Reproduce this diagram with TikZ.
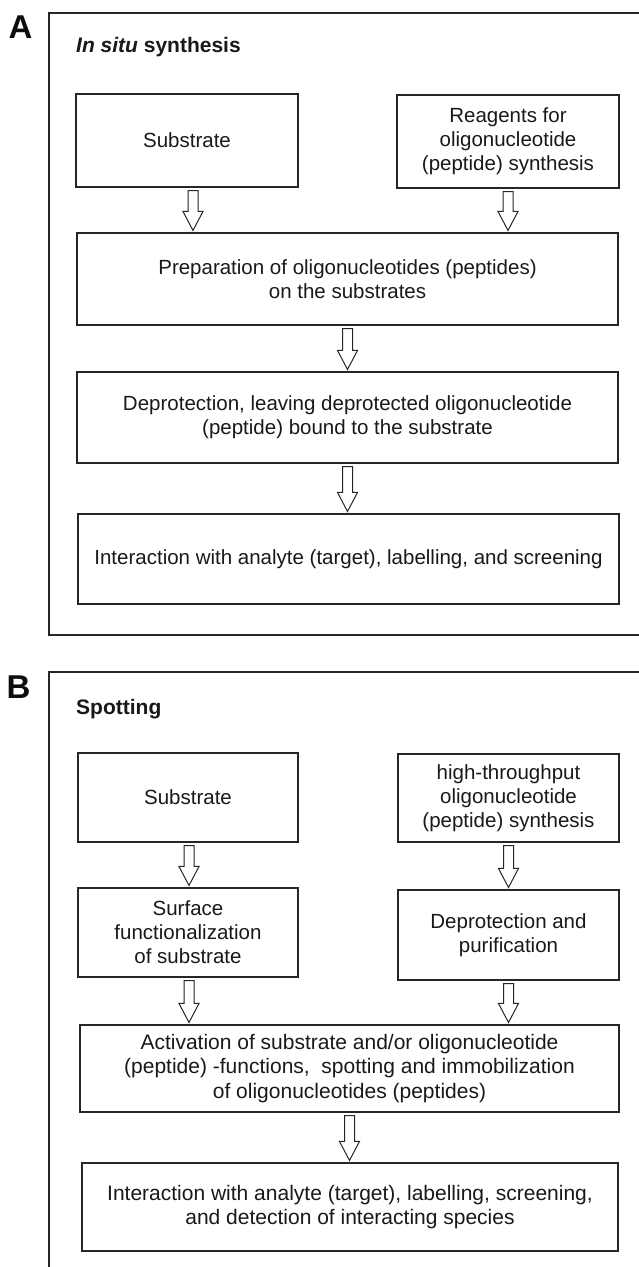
\documentclass[tikz,border=0pt]{standalone}
\usepackage{fontspec}
\setmainfont{Liberation Sans}
\usetikzlibrary{calc}
\tikzset{
  box/.style={draw=black!85, line width=1.1pt, align=center, text=black!90,
    font=\fontsize{20.5}{24}\selectfont, inner sep=0pt},
  big/.style={font=\fontsize{21}{24.5}\selectfont},
  frame/.style={draw=black!85, line width=1.1pt},
  arr/.style={draw=black!85, line width=1pt, fill=white, line join=miter},
  panel/.style={font=\bfseries\fontsize{33}{33}\selectfont, text=black!95, inner sep=0pt, anchor=base west},
  title/.style={font=\bfseries\fontsize{21}{24}\selectfont, text=black!90, inner sep=0pt, anchor=base west},
}
% box: style, name, x1, y1, x2, y2 (pixel coordinates, y downwards), text
\newcommand\bx[7][]{\node[box, #1, minimum width={#5pt-#3pt}, minimum height={#6pt-#4pt}]
  (#2) at ({(#3+#5)/2},{-(#4+#6)/2}) {#7};}
% hollow block arrow from node #2 (south) to node #3 (north), x shift #1
\newcommand\harrow[3][0]{\draw[arr] let \p1=([xshift=#1pt]#2.south), \p2=(#3.north) in
  (\x1-5pt,\y1-3pt) -- (\x1+5pt,\y1-3pt) -- (\x1+5pt,\y2+21pt) -- (\x1+10pt,\y2+21pt)
  -- (\x1,\y2+2pt) -- (\x1-10pt,\y2+21pt) -- (\x1-5pt,\y2+21pt) -- cycle;}
\begin{document}
\begin{tikzpicture}[x=1pt,y=1pt]
\useasboundingbox (0,0) rectangle (639,-1267);
\clip (0,0) rectangle (639,-1267);
\fill[white] (0,0) rectangle (639,-1267);

% ---------- Panel A ----------
\node[panel] (labA) at (8.5,-38) {A};
\draw[frame] (49,-13) rectangle (660,-635);
\node[title] (titA) at (76,-52) {\textit{In situ} synthesis};
\bx{subA}{76}{94}{298}{187}{Substrate}
\bx{reaA}{397}{95}{619}{188}{Reagents for\\oligonucleotide\\(peptide) synthesis}
\bx{prep}{77}{233}{618}{325}{Preparation of oligonucleotides (peptides)\\on the substrates}
\bx{depr}{77}{372}{618}{463}{Deprotection, leaving deprotected oligonucleotide\\(peptide) bound to the substrate}
\bx{intA}{78}{514}{619}{604}{Interaction with analyte (target), labelling, and screening}
\harrow[6]{subA}{prep}
\harrow{reaA}{prep}
\harrow{prep}{depr}
\harrow{depr}{intA}

% ---------- Panel B ----------
\node[panel] (labB) at (6.5,-698) {B};
\draw[frame] (49,-672) rectangle (660,-1300);
\node[title] (titB) at (76,-714) {Spotting};
\bx{subB}{78}{753}{298}{842}{Substrate}
\bx{htB}{398}{754}{619}{842}{high-throughput\\oligonucleotide\\(peptide) synthesis}
\bx{surf}{78}{888}{298}{977}{Surface\\functionalization\\of substrate}
\bx{dpur}{398}{890}{619}{980}{Deprotection and\\purification}
\bx[big]{actB}{80}{1025}{619}{1112}{Activation of substrate and/or oligonucleotide\\(peptide) -functions,\ \ spotting and immobilization\\of oligonucleotides (peptides)}
\bx[big]{intB}{82}{1163}{618}{1251}{Interaction with analyte (target), labelling, screening,\\and detection of interacting species}
\harrow[1]{subB}{surf}
\harrow{htB}{dpur}
\harrow[1]{surf}{actB}
\harrow{dpur}{actB}
\harrow{actB}{intB}
\end{tikzpicture}
\end{document}
